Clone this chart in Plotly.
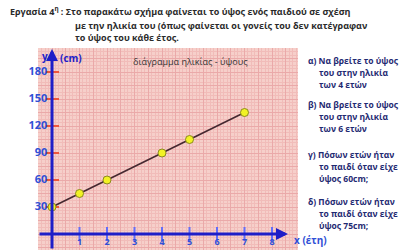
import plotly.graph_objects as go

# Data
ages = [0, 1, 2, 4, 5, 7]
heights = [30, 45, 60, 90, 105, 135]
x_ticks = [1, 2, 3, 4, 5, 6, 7, 8]
y_ticks = [30, 60, 90, 120, 150, 180]

title_lines = [
    "Εργασία 4<sup>η</sup> : Στο παρακάτω σχήμα φαίνεται το ύψος ενός παιδιού σε σχέση",
    "με την ηλικία του (όπως φαίνεται οι γονείς του δεν κατέγραφαν",
    "το ύψος του κάθε έτος.",
]
questions = [
    ["α) Να βρείτε το ύψος", "του στην ηλικία", "των 4 ετών"],
    ["β) Να βρείτε το ύψος", "του στην ηλικία", "των 6 ετών"],
    ["γ) Πόσων ετών ήταν", "το παιδί όταν είχε", "ύψος 60cm;"],
    ["δ) Πόσων ετών ήταν", "το παιδί όταν είχε", "ύψος 75cm;"],
]

W, H = 414, 250
L, R, T, B = 38, 116, 48, 0
PW, PH = W - L - R, H - T - B
px_per_x = 27.5
px_per_y = 0.9
x0_px, y0_px = 52, 234
xr = [(L - x0_px) / px_per_x, (W - R - x0_px) / px_per_x]
yr = [(y0_px - (H - B)) / px_per_y, (y0_px - T) / px_per_y]


def px(xp):
    return (xp - L) / PW


def py(yp):
    return (H - B - yp) / PH


BLUE = "#1e1ec8"
LBLUE = "#2f4fd6"
NAVY = "#1f2a72"
FONT = "Open Sans"

fig = go.Figure()

# tick marks
fig.add_trace(go.Scatter(x=x_ticks, y=[0] * len(x_ticks), mode="markers",
                         marker=dict(symbol="line-ns-open", size=10,
                                     line=dict(color=BLUE, width=2)),
                         hoverinfo="skip", showlegend=False, cliponaxis=False))
fig.add_trace(go.Scatter(x=[0] * len(y_ticks), y=y_ticks, mode="markers",
                         marker=dict(symbol="line-ew-open", size=10,
                                     line=dict(color=BLUE, width=2)),
                         hoverinfo="skip", showlegend=False, cliponaxis=False))
# tick labels
fig.add_trace(go.Scatter(x=x_ticks, y=[-10] * len(x_ticks), mode="text",
                         text=["<b>%d</b>" % v for v in x_ticks],
                         textfont=dict(family=FONT, size=9, color=LBLUE),
                         hoverinfo="skip", showlegend=False, cliponaxis=False))
fig.add_trace(go.Scatter(x=[-0.17] * len(y_ticks), y=y_ticks, mode="text",
                         text=["<b>%d</b>" % v for v in y_ticks], textposition="middle left",
                         textfont=dict(family=FONT, size=11, color=LBLUE),
                         hoverinfo="skip", showlegend=False, cliponaxis=False))

# data line
fig.add_trace(go.Scatter(x=ages, y=heights, mode="lines+markers",
                         line=dict(color="#452830", width=1.6),
                         marker=dict(size=8, color="#f2f224",
                                     line=dict(color="#8a8a20", width=1)),
                         showlegend=False, cliponaxis=False))

ann = []
# axes arrows
ann.append(dict(x=xr[1] - 10 / px_per_x, y=0, ax=xr[0], ay=0, xref="x", yref="y",
                axref="x", ayref="y", showarrow=True, arrowhead=2, arrowsize=0.8,
                arrowwidth=3, arrowcolor=BLUE, text=""))
ann.append(dict(x=0, y=yr[1] - 1, ax=0, ay=yr[0], xref="x", yref="y",
                axref="x", ayref="y", showarrow=True, arrowhead=2, arrowsize=0.8,
                arrowwidth=3, arrowcolor=BLUE, text=""))
# axis labels
ann.append(dict(x=px(45), y=py(56), xref="paper", yref="paper", text="<b>y</b>",
                xanchor="center", yanchor="middle",
                showarrow=False, font=dict(family=FONT, size=10, color=BLUE)))
ann.append(dict(x=px(58), y=py(58), xref="paper", yref="paper", text="<b>(cm)</b>",
                xanchor="left", yanchor="middle",
                showarrow=False, font=dict(family=FONT, size=10, color=BLUE)))
ann.append(dict(x=px(292), y=py(240), xref="paper", yref="paper",
                text="<b>x (έτη)</b>", xanchor="left", yanchor="middle",
                showarrow=False, font=dict(family=FONT, size=10, color=LBLUE)))
# chart inner title
ann.append(dict(x=px(190), y=py(62), xref="paper", yref="paper",
                text="διάγραμμα ηλικίας - ύψους", showarrow=False,
                xanchor="center", yanchor="middle",
                font=dict(family=FONT, size=9, color="#333333")))
# page title
title_pos = [(8, 11), (73, 26), (73, 38)]
for line, (tx, ty) in zip(title_lines, title_pos):
    ann.append(dict(x=px(tx), y=py(ty), xref="paper", yref="paper",
                    text="<b>" + line + "</b>", xanchor="left", yanchor="middle",
                    showarrow=False,
                    font=dict(family=FONT, size=9, color="#2a2a2a")))
# questions
q_tops = [60, 104, 154, 201]
for qlines, qy in zip(questions, q_tops):
    for i, line in enumerate(qlines):
        ann.append(dict(x=px(306 if i == 0 else 317), y=py(qy + 12 * i),
                        xref="paper", yref="paper", text="<b>" + line + "</b>",
                        xanchor="left", yanchor="middle", showarrow=False,
                        font=dict(family=FONT, size=8.5, color=NAVY)))

fig.update_layout(
    width=W, height=H,
    margin=dict(l=L, r=R, t=T, b=B),
    paper_bgcolor="white",
    plot_bgcolor="#f6cfca",
    annotations=ann,
    xaxis=dict(range=xr, dtick=0.5, tick0=0, showgrid=True, gridcolor="#eaa9a9",
               gridwidth=1, showticklabels=False, zeroline=False, ticks="",
               minor=dict(dtick=0.125, showgrid=True, gridcolor="#f1bcb9", gridwidth=1),
               fixedrange=True),
    yaxis=dict(range=yr, dtick=15, tick0=0, showgrid=True, gridcolor="#eaa9a9",
               gridwidth=1, showticklabels=False, zeroline=False, ticks="",
               minor=dict(dtick=3.75, showgrid=True, gridcolor="#f1bcb9", gridwidth=1),
               fixedrange=True),
)

fig.write_html("out.html", config={"displayModeBar": False},
               post_script="document.body.style.margin='0';")
